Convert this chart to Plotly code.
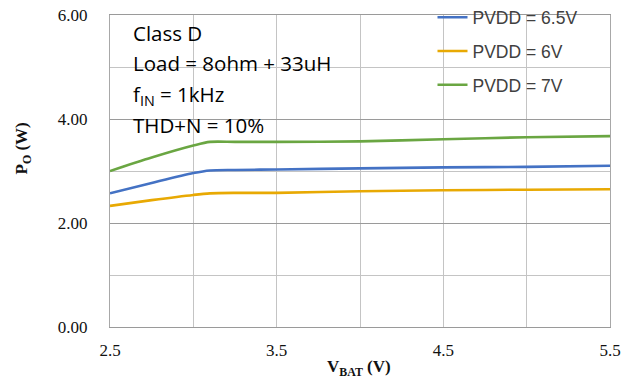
import plotly.graph_objects as go

vbat = [2.5, 2.75, 3.0, 3.1, 3.25, 3.5, 4.0, 4.5, 5.0, 5.5]
po_65v = [2.57, 2.77, 2.96, 3.01, 3.02, 3.03, 3.05, 3.07, 3.08, 3.10]
po_6v = [2.33, 2.44, 2.54, 2.57, 2.58, 2.58, 2.61, 2.63, 2.64, 2.65]
po_7v = [3.00, 3.26, 3.49, 3.56, 3.56, 3.56, 3.57, 3.61, 3.65, 3.67]

series_names = ["PVDD = 6.5V", "PVDD = 6V", "PVDD = 7V"]
series_values = [po_65v, po_6v, po_7v]
series_colors = ["#4472C4", "#E8A903", "#6AA642"]

x_tickvals = [2.5, 3.0, 3.5, 4.0, 4.5, 5.0, 5.5]
x_ticktext = ["2.5", "", "3.5", "", "4.5", "", "5.5"]
y_tickvals = [0, 2, 4, 6]
y_ticktext = ["0.00", "2.00", "4.00", "6.00"]
y_minor_vals = [1, 3, 5]

info_lines = ["Class D", "Load = 8ohm + 33uH", "f<sub>IN</sub> = 1kHz", "THD+N = 10%"]

fig = go.Figure()
for i, (name, vals, col) in enumerate(zip(series_names, series_values, series_colors)):
    fig.add_trace(go.Scatter(
        x=vbat, y=vals, name=name, mode="lines",
        line=dict(color=col, width=2.6, shape="spline", smoothing=0.8),
        legendgroup=f"g{i}",
    ))

serif = "Liberation Serif, Times New Roman, serif"

fig.update_layout(
    width=635, height=392,
    margin=dict(l=110, r=25, t=15, b=65, autoexpand=False),
    paper_bgcolor="white", plot_bgcolor="white",
    showlegend=True,
    legend=dict(
        x=0.645, y=1.05, xanchor="left", yanchor="top",
        font=dict(family="Liberation Sans, Arial, sans-serif", size=17.5, color="#404040"),
        bgcolor="rgba(0,0,0,0)", traceorder="grouped", tracegroupgap=8,
        itemwidth=30,
    ),
    xaxis=dict(
        range=[2.5, 5.5], tickmode="array", tickvals=x_tickvals, ticktext=x_ticktext,
        showgrid=True, gridcolor="#C4C4C4", gridwidth=1,
        showline=True, linecolor="#9A9A9A", linewidth=1, mirror=True,
        zeroline=False, ticks="outside", ticklen=8, tickcolor="rgba(0,0,0,0)",
        tickfont=dict(family=serif, size=17, color="#111"),
    ),
    yaxis=dict(
        range=[0, 6], tickmode="array", tickvals=y_tickvals, ticktext=y_ticktext,
        showgrid=True, gridcolor="#9A9A9A", gridwidth=1,
        showline=True, linecolor="#A8A8A8", linewidth=1, mirror=True,
        zeroline=False, ticks="outside", ticklen=18, tickcolor="rgba(0,0,0,0)",
        tickfont=dict(family=serif, size=17, color="#111"),
        minor=dict(tickmode="array", tickvals=y_minor_vals, showgrid=True,
                   gridcolor="#C4C4C4", gridwidth=1, ticks=""),
    ),
)

line_centers = [33, 63, 95, 125]
for txt, yc in zip(info_lines, line_centers):
    fig.add_annotation(
        xref="paper", yref="paper", x=(131 - 109.7) / 500.3, y=1 - (yc - 15) / 311.7,
        xanchor="left", yanchor="middle", showarrow=False, text=txt,
        font=dict(family="Open Sans, Noto Sans, sans-serif", size=20.5, color="#000"),
    )

fig.add_annotation(
    xref="paper", yref="paper", x=(23 - 109.7) / 500.3, y=(326.7 - 148) / 311.7,
    xanchor="center", yanchor="middle", textangle=-90, showarrow=False,
    text="<b>P<sub>O</sub> (W)</b>", font=dict(family=serif, size=17, color="#111"),
)
fig.add_annotation(
    xref="paper", yref="paper", x=0.497, y=(326.7 - 368) / 311.7,
    xanchor="center", yanchor="middle", showarrow=False,
    text="<b>V<sub>BAT</sub> (V)</b>", font=dict(family=serif, size=17, color="#111"),
)

fig.write_html("out.html", config={"displayModeBar": False},
               post_script="document.body.style.margin='0';document.body.style.padding='0';")
